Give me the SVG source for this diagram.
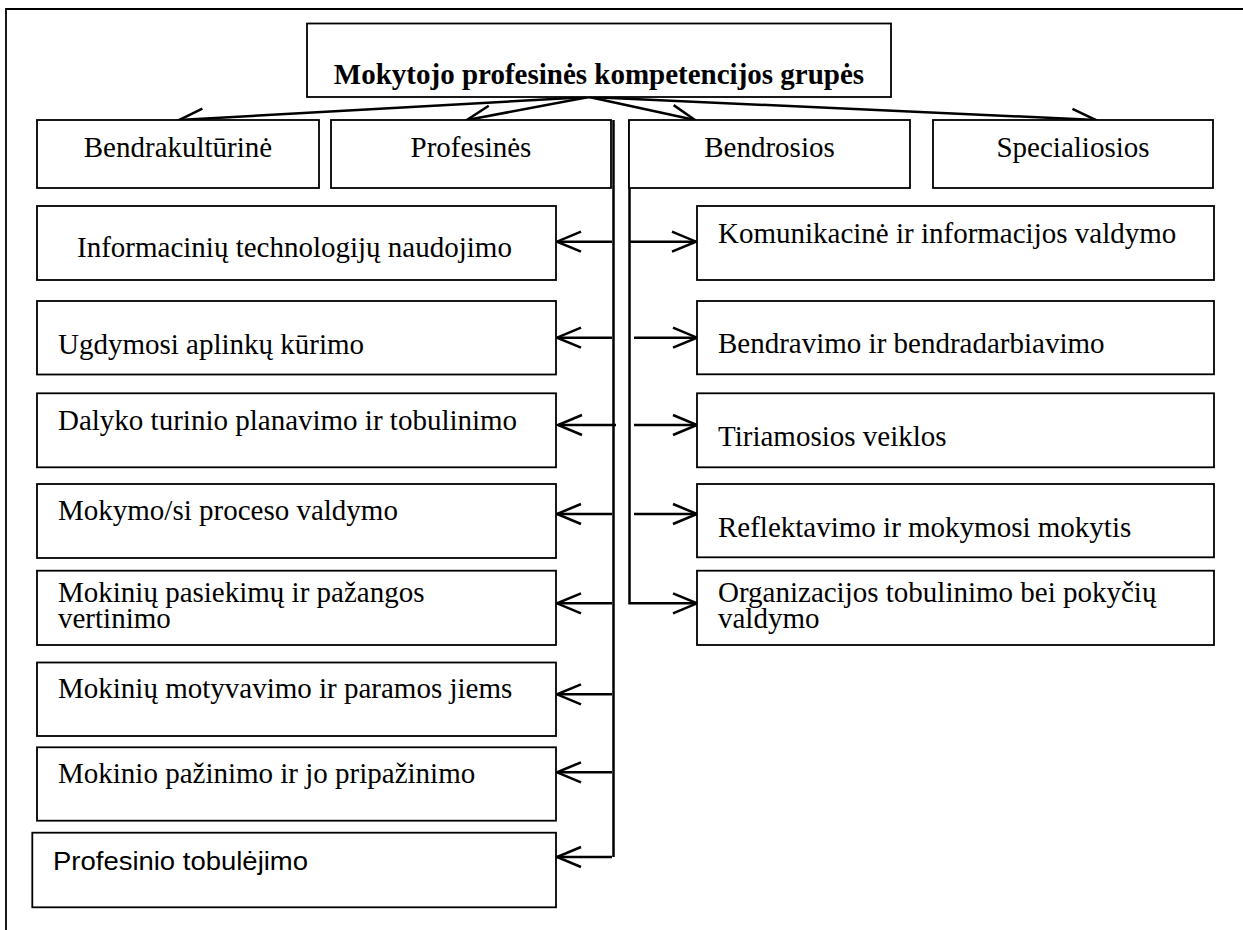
<svg xmlns="http://www.w3.org/2000/svg" width="1243" height="930" viewBox="0 0 1243 930">
<style>
.box{fill:#fff;stroke:#000;stroke-width:1.8}
.t{font-family:"Liberation Serif","Times New Roman",serif;font-size:29px;fill:#000}
.c{text-anchor:middle}
.b{font-weight:bold}
.s{font-family:"Liberation Sans",Arial,sans-serif;font-size:26px;fill:#000}
.ln{fill:none;stroke:#000;stroke-width:2.5}
.fr{fill:none;stroke:#000;stroke-width:1.8}
</style>
<defs>
<marker id="ah" markerUnits="userSpaceOnUse" markerWidth="40" markerHeight="30" viewBox="-30 -15 40 30" refX="0" refY="0" orient="auto" overflow="visible">
<path d="M-24,-10 L0,0 L-24,10" fill="none" stroke="#000" stroke-width="2.5"/>
</marker>
</defs>
<rect width="1243" height="930" fill="#fff"/>
<path class="fr" d="M6,930 V9 H1243"/>
<g id="connectors">
<line class="ln" x1="589" y1="97" x2="179" y2="120" marker-end="url(#ah)"/>
<line class="ln" x1="589" y1="97" x2="467" y2="120" marker-end="url(#ah)"/>
<line class="ln" x1="589" y1="97" x2="695" y2="120" marker-end="url(#ah)"/>
<line class="ln" x1="589" y1="97" x2="1096" y2="120" marker-end="url(#ah)"/>
<line class="ln" x1="613.5" y1="120" x2="613.5" y2="857"/>
<path class="ln" d="M629.5,120 V603.3 H697" marker-end="url(#ah)"/>
<line class="ln" x1="612" y1="241.7" x2="557" y2="241.7" marker-end="url(#ah)"/>
<line class="ln" x1="612" y1="337.7" x2="557" y2="337.7" marker-end="url(#ah)"/>
<line class="ln" x1="616" y1="425" x2="558" y2="425" marker-end="url(#ah)"/>
<line class="ln" x1="612" y1="514" x2="557" y2="514" marker-end="url(#ah)"/>
<line class="ln" x1="612" y1="603.3" x2="557" y2="603.3" marker-end="url(#ah)"/>
<line class="ln" x1="612" y1="694.3" x2="557" y2="694.3" marker-end="url(#ah)"/>
<line class="ln" x1="612" y1="772.3" x2="557" y2="772.3" marker-end="url(#ah)"/>
<line class="ln" x1="612" y1="857" x2="557" y2="857" marker-end="url(#ah)"/>
<line class="ln" x1="629.5" y1="241.7" x2="696" y2="241.7" marker-end="url(#ah)"/>
<line class="ln" x1="634" y1="337.7" x2="697" y2="337.7" marker-end="url(#ah)"/>
<line class="ln" x1="634" y1="425" x2="697" y2="425" marker-end="url(#ah)"/>
<line class="ln" x1="634" y1="514" x2="697" y2="514" marker-end="url(#ah)"/>
</g>
<g id="title"><rect class="box" x="307" y="23.5" width="584" height="73.5"/><text class="t b c" x="599" y="84">Mokytojo profesinės kompetencijos grupės</text></g>
<g id="bendrakulturine"><rect class="box" x="37" y="120" width="282" height="68"/><text class="t c" x="178" y="156.5">Bendrakultūrinė</text></g>
<g id="profesines"><rect class="box" x="331" y="120" width="280" height="68"/><text class="t c" x="471" y="156.5">Profesinės</text></g>
<g id="bendrosios"><rect class="box" x="629" y="120" width="281" height="68"/><text class="t c" x="769.5" y="156.5">Bendrosios</text></g>
<g id="specialiosios"><rect class="box" x="933" y="120" width="280" height="68"/><text class="t c" x="1073" y="156.5">Specialiosios</text></g>
<g id="it"><rect class="box" x="37" y="206" width="519" height="74"/><text class="t" x="77" y="256.7">Informacinių technologijų naudojimo</text></g>
<g id="ugdymosi"><rect class="box" x="37" y="301" width="519" height="73.5"/><text class="t" x="58" y="354">Ugdymosi aplinkų kūrimo</text></g>
<g id="dalyko"><rect class="box" x="37" y="393.3" width="519" height="74"/><text class="t" x="58" y="430">Dalyko turinio planavimo ir tobulinimo</text></g>
<g id="mokymo"><rect class="box" x="37" y="484" width="519" height="74"/><text class="t" x="58" y="520">Mokymo/si proceso valdymo</text></g>
<g id="pasiekimu"><rect class="box" x="37" y="570.7" width="519" height="74.3"/><text class="t" x="58" y="602">Mokinių pasiekimų ir pažangos</text><text class="t" x="58" y="628">vertinimo</text></g>
<g id="motyvavimo"><rect class="box" x="37" y="662.5" width="519" height="73.5"/><text class="t" x="58" y="698">Mokinių motyvavimo ir paramos jiems</text></g>
<g id="pazinimo"><rect class="box" x="37" y="747.3" width="519" height="73.4"/><text class="t" x="58" y="783">Mokinio pažinimo ir jo pripažinimo</text></g>
<g id="tobulejimo"><rect class="box" x="32.3" y="832.7" width="523.7" height="74.6"/><text class="s" x="53" y="870" textLength="255" lengthAdjust="spacingAndGlyphs">Profesinio tobulėjimo</text></g>
<g id="komunikacine"><rect class="box" x="697" y="206" width="517" height="74"/><text class="t" x="718" y="243.3">Komunikacinė ir informacijos valdymo</text></g>
<g id="bendravimo"><rect class="box" x="697" y="301" width="517" height="73.3"/><text class="t" x="718" y="353.3">Bendravimo ir bendradarbiavimo</text></g>
<g id="tiriamosios"><rect class="box" x="697" y="393.3" width="517" height="74"/><text class="t" x="718" y="446">Tiriamosios veiklos</text></g>
<g id="reflektavimo"><rect class="box" x="697" y="484" width="517" height="73.3"/><text class="t" x="718" y="536.7">Reflektavimo ir mokymosi mokytis</text></g>
<g id="organizacijos"><rect class="box" x="697" y="570.7" width="517" height="74.3"/><text class="t" x="718" y="602">Organizacijos tobulinimo bei pokyčių</text><text class="t" x="718" y="628">valdymo</text></g>
</svg>
